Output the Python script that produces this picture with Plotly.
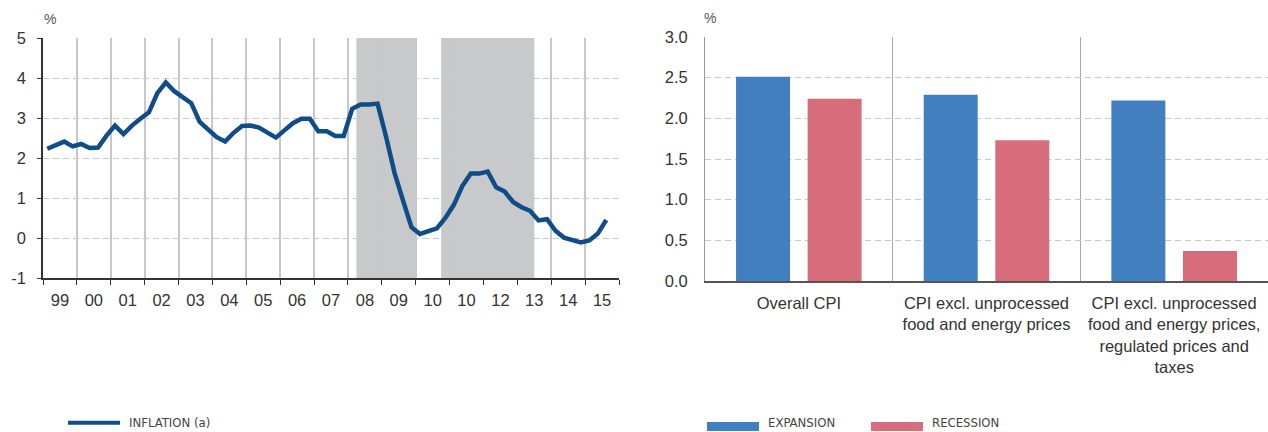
import plotly.graph_objects as go

W, H = 1268, 432

# ---------------- Left panel data (quarterly inflation, %) ----------------
start_year = 1999
inflation = [
    2.23, 2.32, 2.41, 2.29,   # 1999
    2.35, 2.25, 2.26, 2.56,   # 2000
    2.81, 2.60, 2.81, 2.98,   # 2001
    3.14, 3.62, 3.89, 3.67,   # 2002
    3.52, 3.37, 2.90, 2.71,   # 2003
    2.52, 2.41, 2.63, 2.80,   # 2004
    2.81, 2.76, 2.65, 2.51,   # 2005
    2.69, 2.87, 2.98, 2.98,   # 2006
    2.67, 2.67, 2.55, 2.55,   # 2007
    3.23, 3.34, 3.34, 3.36,   # 2008
    2.53, 1.63, 0.94, 0.27,   # 2009
    0.10, 0.17, 0.24, 0.50,   # 2010
    0.83, 1.30, 1.61, 1.61,   # 2011
    1.66, 1.27, 1.16, 0.90,   # 2012
    0.77, 0.68, 0.44, 0.47,   # 2013
    0.18, 0.01, -0.06, -0.11, # 2014
    -0.06, 0.11, 0.45,        # 2015
]
year_labels = ["99", "00", "01", "02", "03", "04", "05", "06", "07",
               "08", "09", "10", "10", "12", "13", "14", "15"]
left_yticks = [-1, 0, 1, 2, 3, 4, 5]
left_ytext = ["-1", "0", "1", "2", "3", "4", "5"]
# recession periods (start, end) in decimal years
recessions = [(2008.25, 2010.0), (2010.75, 2013.5)]

# ---------------- Right panel data ----------------
categories = [
    "Overall CPI",
    "CPI excl. unprocessed<br>food and energy prices",
    "CPI excl. unprocessed<br>food and energy prices,<br>regulated prices and<br>taxes",
]
expansion = [2.51, 2.29, 2.22]
recession = [2.24, 1.73, 0.37]

LINE_C = "#0f4c88"
BLUE = "#427fc1"
RED = "#d76c7a"
GRID = "#c8c8c8"
TXT = "#333333"
FONT = "Liberation Sans, Arial, Helvetica, sans-serif"
NARROW = "Liberation Sans Narrow, Arial Narrow, DejaVu Sans Condensed, sans-serif"

x_quarters = [start_year + i // 4 + ((i % 4) + 0.5) / 4 for i in range(len(inflation))]
n_years = len(year_labels)
year_centers = [start_year + i + 0.5 for i in range(n_years)]

fig = go.Figure()

fig.add_trace(go.Scatter(
    x=x_quarters, y=inflation, mode="lines", name="INFLATION (a)",
    line=dict(color=LINE_C, width=4.5), xaxis="x", yaxis="y", showlegend=False,
))

fig.add_trace(go.Bar(
    x=categories, y=expansion, name="EXPANSION", marker=dict(color=BLUE, line=dict(width=0)),
    xaxis="x2", yaxis="y2", showlegend=False,
))
fig.add_trace(go.Bar(
    x=categories, y=recession, name="RECESSION", marker=dict(color=RED, line=dict(width=0)),
    xaxis="x2", yaxis="y2", showlegend=False,
))

shapes = []
for a, b in recessions:
    shapes.append(dict(type="rect", xref="x", yref="y domain", x0=a, x1=b, y0=0, y1=1,
                       fillcolor="#c8c9cb", line=dict(width=0), layer="below"))

def px(x):
    return x / W

def py(y):
    return 1 - y / H

# legends (drawn swatches)
shapes.append(dict(type="line", xref="paper", yref="paper", x0=px(68), x1=px(120),
                   y0=py(422.7), y1=py(422.7), line=dict(color=LINE_C, width=4)))
shapes.append(dict(type="rect", xref="paper", yref="paper", x0=px(707), x1=px(759),
                   y0=py(422), y1=py(431), fillcolor=BLUE, line=dict(width=0)))
shapes.append(dict(type="rect", xref="paper", yref="paper", x0=px(871), x1=px(923),
                   y0=py(422), y1=py(431), fillcolor=RED, line=dict(width=0)))

annotations = [
    dict(text="%", x=px(50), y=py(19), xref="paper", yref="paper", showarrow=False,
         font=dict(size=14, color="#555555", family=FONT), xanchor="center", yanchor="middle"),
    dict(text="%", x=px(710), y=py(18), xref="paper", yref="paper", showarrow=False,
         font=dict(size=14, color="#555555", family=FONT), xanchor="center", yanchor="middle"),
    dict(text="INFLATION (a)", x=px(127), y=0, xref="paper", yref="paper", showarrow=False,
         font=dict(size=13, color="#444444", family=NARROW), xanchor="left", yanchor="bottom"),
    dict(text="EXPANSION", x=px(766), y=0, xref="paper", yref="paper", showarrow=False,
         font=dict(size=13, color="#444444", family=NARROW), xanchor="left", yanchor="bottom"),
    dict(text="RECESSION", x=px(930), y=0, xref="paper", yref="paper", showarrow=False,
         font=dict(size=13, color="#444444", family=NARROW), xanchor="left", yanchor="bottom"),
]

fig.update_layout(
    width=W, height=H,
    margin=dict(l=0, r=0, t=0, b=0, pad=0),
    paper_bgcolor="white", plot_bgcolor="white",
    font=dict(family=FONT, size=16.5, color=TXT),
    barmode="group", bargap=0.237, bargroupgap=0.246,
    showlegend=False,
    shapes=shapes, annotations=annotations,
    xaxis=dict(
        domain=[px(43), px(619)], range=[start_year, start_year + n_years],
        tickvals=year_centers, ticktext=year_labels, ticks="", showgrid=False,
        showline=True, linecolor="#333333", linewidth=1.5, zeroline=False,
        tickfont=dict(size=16.5, color=TXT), anchor="y", automargin=False,
        ticklabelstandoff=6,
        minor=dict(tick0=start_year, dtick=1, showgrid=True, gridcolor=GRID, gridwidth=1.5,
                   ticks="outside", ticklen=5, tickcolor="#333333", tickwidth=1),
    ),
    yaxis=dict(
        domain=[py(278), py(38)], range=[-1, 5],
        tickvals=left_yticks, ticktext=left_ytext,
        showgrid=True, gridcolor=GRID, griddash="6px,4px", gridwidth=1,
        showline=True, linecolor="#333333", linewidth=1.5, zeroline=False,
        ticks="outside", ticklen=4, tickcolor="#333333", ticklabelstandoff=8,
        tickfont=dict(size=16.5, color=TXT), anchor="x", automargin=False,
    ),
    xaxis2=dict(
        domain=[px(705), 1.0], type="category", tickson="boundaries",
        showgrid=True, gridcolor="#a8a8a8", gridwidth=1,
        showline=True, linecolor="#555555", linewidth=2, ticks="",
        ticklabelstandoff=6,
        tickfont=dict(size=16.5, color=TXT), anchor="y2", automargin=False,
    ),
    yaxis2=dict(
        domain=[py(281), py(37)], range=[0, 3], dtick=0.5, tick0=0, tickformat=".1f",
        showgrid=True, gridcolor=GRID, griddash="6px,4px", gridwidth=1,
        showline=True, linecolor="#999999", linewidth=1, zeroline=False, ticks="",
        ticklabelstandoff=13,
        tickfont=dict(size=16.5, color=TXT), anchor="x2", automargin=False,
    ),
)

fig.write_html(
    "out.html",
    config={"displayModeBar": False},
    post_script="document.body.style.margin='0';document.body.style.overflow='hidden';",
)
